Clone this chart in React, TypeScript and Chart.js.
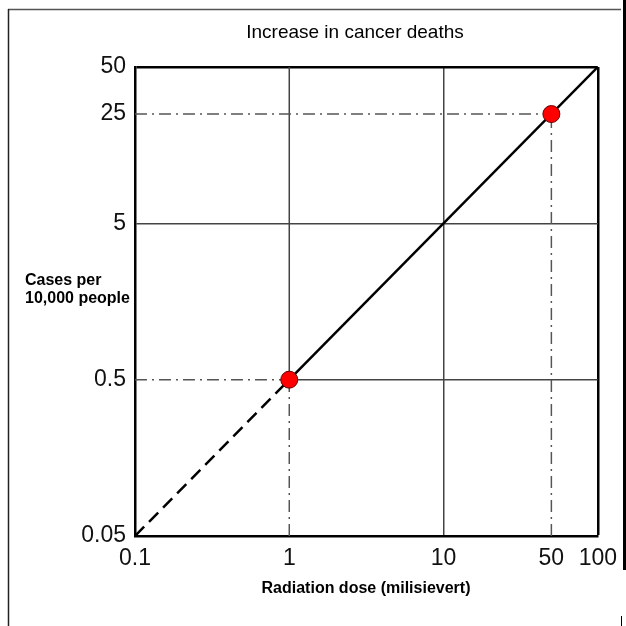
import React, { useEffect, useRef } from "react";
import { Chart, registerables } from "chart.js";

Chart.register(...registerables);

const chartTitle = "Increase in cancer deaths";
const xAxisTitle = "Radiation dose (milisievert)";
const yAxisTitleLines = ["Cases per", "10,000 people"];

const xTicks = [0.1, 1, 10, 50, 100];
const yTicks = [0.05, 0.5, 5, 25, 50];
const xGridSolid = [10];
const yGridSolid = [5];

// measured points
const pointDoses = [1, 50];
const pointCases = [0.5, 25];

// linear no-threshold model line (dashed below 1 mSv, solid above)
const extrapDoses = [0.1, 1];
const extrapCases = [0.05, 0.5];
const modelDoses = [1, 100];
const modelCases = [0.5, 50];

const FONT = '"Liberation Sans", Arial, sans-serif';

const framePlugin = {
  id: "frameAndTexts",
  afterDraw(chart: any) {
    const ctx = chart.ctx;
    ctx.save();
    // outer frame
    ctx.strokeStyle = "#555";
    ctx.lineWidth = 1.5;
    ctx.beginPath();
    ctx.moveTo(8, 9.5);
    ctx.lineTo(621, 9.5);
    ctx.stroke();
    ctx.strokeStyle = "#222";
    ctx.beginPath();
    ctx.moveTo(8.5, 9);
    ctx.lineTo(8.5, 626);
    ctx.stroke();
    ctx.fillStyle = "#000";
    ctx.fillRect(623, 0, 3, 570);
    ctx.fillRect(621, 616, 1, 10);

    // texts
    ctx.fillStyle = "#000";
    ctx.font = `19px ${FONT}`;
    ctx.textAlign = "center";
    ctx.textBaseline = "middle";
    ctx.fillText(chartTitle, 355, 33);

    ctx.font = `bold 16px ${FONT}`;
    ctx.fillText(xAxisTitle, 366, 589);

    ctx.textAlign = "left";
    ctx.textBaseline = "alphabetic";
    yAxisTitleLines.forEach((t, i) => ctx.fillText(t, 25, 285 + i * 18));
    ctx.restore();
  },
};

function pts(xs: number[], ys: number[]) {
  return xs.map((x, i) => ({ x, y: ys[i] }));
}

export default function App() {
  const ref = useRef<HTMLCanvasElement | null>(null);

  useEffect(() => {
    if (!ref.current) return;
    const xMin = xTicks[0];
    const xMax = xTicks[xTicks.length - 1];
    const yMin = yTicks[0];
    const yMax = yTicks[yTicks.length - 1];
    const dashDot = [12, 5, 2, 5];
    const guideStyle = {
      borderColor: "#555",
      borderWidth: 1.5,
      borderDash: dashDot,
      pointRadius: 0,
      showLine: true,
      fill: false,
    };
    const gridStyle = {
      borderColor: "#444",
      borderWidth: 1.5,
      pointRadius: 0,
      showLine: true,
      fill: false,
    };
    const chart = new Chart(ref.current, {
      type: "scatter",
      data: {
        datasets: [
          {
            data: pts(pointDoses, pointCases),
            backgroundColor: "#ff0000",
            borderColor: "#600",
            borderWidth: 1,
            pointRadius: 8.5,
            showLine: false,
          },
          {
            data: pts(modelDoses, modelCases),
            borderColor: "#000",
            borderWidth: 2.5,
            pointRadius: 0,
            showLine: true,
          },
          {
            data: pts(extrapDoses, extrapCases),
            borderColor: "#000",
            borderWidth: 2.5,
            borderDash: [13, 7],
            pointRadius: 0,
            showLine: true,
          },
          // guides from the points to the axes
          { ...guideStyle, data: pts([pointDoses[0], pointDoses[0]], [yMin, pointCases[0]]) },
          { ...guideStyle, data: pts([xMin, pointDoses[0]], [pointCases[0], pointCases[0]]) },
          { ...guideStyle, data: pts([pointDoses[1], pointDoses[1]], [yMin, pointCases[1]]) },
          { ...guideStyle, data: pts([xMin, pointDoses[1]], [pointCases[1], pointCases[1]]) },
          // solid grid parts beyond the first point
          { ...gridStyle, data: pts([pointDoses[0], pointDoses[0]], [pointCases[0], yMax]) },
          { ...gridStyle, data: pts([pointDoses[0], xMax], [pointCases[0], pointCases[0]]) },
        ] as any,
      },
      options: {
        animation: false,
        responsive: false,
        layout: { padding: { left: 0, top: 67, right: 28, bottom: 0 } },
        plugins: {
          legend: { display: false },
          tooltip: { enabled: false },
          title: { display: false },
        },
        scales: {
          x: {
            type: "logarithmic",
            min: xMin,
            max: xMax,
            afterBuildTicks: (scale: any) => {
              scale.ticks = xTicks.map((v) => ({ value: v }));
            },
            afterFit: (scale: any) => {
              scale.height = 90;
            },
            ticks: {
              autoSkip: false,
              maxRotation: 0,
              padding: 9,
              color: "#111",
              font: { family: FONT, size: 23 },
              callback: (v: any) => String(v),
            },
            grid: {
              drawTicks: false,
              color: (c: any) => {
                const v = c.tick?.value;
                if (v === xMax) return "#000";
                return xGridSolid.includes(v) ? "#444" : "rgba(0,0,0,0)";
              },
              lineWidth: (c: any) => (c.tick?.value === xMax ? 2.5 : 1.5),
            },
            border: { display: true, color: "#000", width: 2.5 },
          },
          y: {
            type: "logarithmic",
            min: yMin,
            max: yMax,
            afterBuildTicks: (scale: any) => {
              scale.ticks = yTicks.map((v) => ({ value: v }));
            },
            afterFit: (scale: any) => {
              scale.width = 135;
            },
            ticks: {
              autoSkip: false,
              padding: 9,
              color: "#111",
              font: { family: FONT, size: 23 },
              callback: (v: any) => String(v),
            },
            grid: {
              drawTicks: false,
              color: (c: any) => {
                const v = c.tick?.value;
                if (v === yMax) return "#000";
                return yGridSolid.includes(v) ? "#444" : "rgba(0,0,0,0)";
              },
              lineWidth: (c: any) => (c.tick?.value === yMax ? 2.5 : 1.5),
            },
            border: { display: true, color: "#000", width: 2.5 },
          },
        },
      } as any,
      plugins: [framePlugin],
    });
    return () => chart.destroy();
  }, []);

  return (
    <div style={{ position: "absolute", left: 0, top: 0, width: 626, height: 626, background: "#fff" }}>
      <canvas ref={ref} width={626} height={626} style={{ display: "block" }} />
    </div>
  );
}
